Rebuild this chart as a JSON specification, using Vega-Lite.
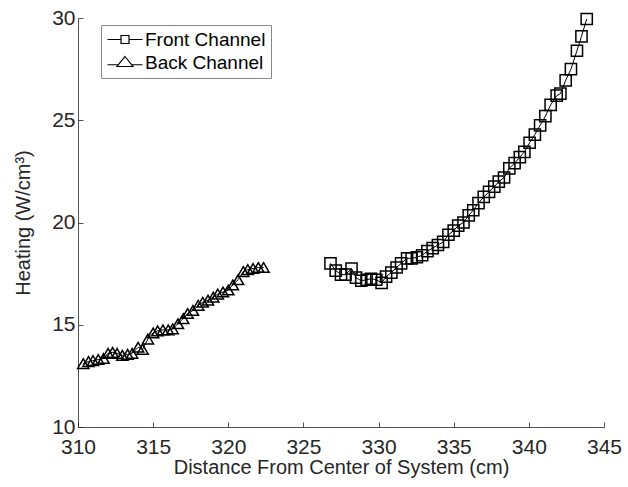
{
  "$schema": "https://vega.github.io/schema/vega-lite/v6.json",
  "width": 526,
  "height": 409,
  "autosize": {"type": "none"},
  "padding": {"left": 78, "top": 18, "right": 24, "bottom": 60},
  "background": "white",
  "config": {
    "view": {"stroke": null},
    "font": "Liberation Sans",
    "axis": {
      "domainColor": "#262626",
      "tickColor": "#262626",
      "labelColor": "#262626",
      "titleColor": "#262626",
      "labelFont": "Liberation Sans",
      "titleFont": "Liberation Sans",
      "labelFontSize": 21,
      "titleFontSize": 20,
      "titleFontWeight": "normal",
      "grid": false,
      "tickSize": -5,
      "domainWidth": 0.8,
      "tickWidth": 0.8,
      "labelFlush": false
    }
  },
  "data": {
    "values": [
      {"x": 310.35, "y": 13.1, "s": "Back Channel"},
      {"x": 310.7, "y": 13.2, "s": "Back Channel"},
      {"x": 311.0, "y": 13.25, "s": "Back Channel"},
      {"x": 311.35, "y": 13.3, "s": "Back Channel"},
      {"x": 311.7, "y": 13.35, "s": "Back Channel"},
      {"x": 312.0, "y": 13.6, "s": "Back Channel"},
      {"x": 312.3, "y": 13.65, "s": "Back Channel"},
      {"x": 312.6, "y": 13.6, "s": "Back Channel"},
      {"x": 312.95, "y": 13.5, "s": "Back Channel"},
      {"x": 313.3, "y": 13.55, "s": "Back Channel"},
      {"x": 313.6, "y": 13.6, "s": "Back Channel"},
      {"x": 314.0, "y": 13.9, "s": "Back Channel"},
      {"x": 314.3, "y": 13.8, "s": "Back Channel"},
      {"x": 314.65, "y": 14.3, "s": "Back Channel"},
      {"x": 315.0, "y": 14.6, "s": "Back Channel"},
      {"x": 315.3, "y": 14.7, "s": "Back Channel"},
      {"x": 315.65, "y": 14.75, "s": "Back Channel"},
      {"x": 316.0, "y": 14.75, "s": "Back Channel"},
      {"x": 316.3, "y": 14.8, "s": "Back Channel"},
      {"x": 316.65, "y": 15.05, "s": "Back Channel"},
      {"x": 317.0, "y": 15.3, "s": "Back Channel"},
      {"x": 317.3, "y": 15.55, "s": "Back Channel"},
      {"x": 317.65, "y": 15.7, "s": "Back Channel"},
      {"x": 318.0, "y": 15.95, "s": "Back Channel"},
      {"x": 318.3, "y": 16.1, "s": "Back Channel"},
      {"x": 318.65, "y": 16.2, "s": "Back Channel"},
      {"x": 319.0, "y": 16.35, "s": "Back Channel"},
      {"x": 319.3, "y": 16.5, "s": "Back Channel"},
      {"x": 319.65, "y": 16.6, "s": "Back Channel"},
      {"x": 320.0, "y": 16.7, "s": "Back Channel"},
      {"x": 320.3, "y": 16.95, "s": "Back Channel"},
      {"x": 320.65, "y": 17.2, "s": "Back Channel"},
      {"x": 321.0, "y": 17.6, "s": "Back Channel"},
      {"x": 321.3, "y": 17.7, "s": "Back Channel"},
      {"x": 321.65, "y": 17.75, "s": "Back Channel"},
      {"x": 322.0, "y": 17.8, "s": "Back Channel"},
      {"x": 322.35, "y": 17.8, "s": "Back Channel"},
      {"x": 326.8, "y": 18.0, "s": "Front Channel"},
      {"x": 327.15, "y": 17.65, "s": "Front Channel"},
      {"x": 327.5, "y": 17.45, "s": "Front Channel"},
      {"x": 327.8, "y": 17.45, "s": "Front Channel"},
      {"x": 328.2, "y": 17.75, "s": "Front Channel"},
      {"x": 328.5, "y": 17.3, "s": "Front Channel"},
      {"x": 328.85, "y": 17.15, "s": "Front Channel"},
      {"x": 329.2, "y": 17.2, "s": "Front Channel"},
      {"x": 329.5, "y": 17.25, "s": "Front Channel"},
      {"x": 329.85, "y": 17.2, "s": "Front Channel"},
      {"x": 330.2, "y": 17.05, "s": "Front Channel"},
      {"x": 330.5, "y": 17.35, "s": "Front Channel"},
      {"x": 330.85, "y": 17.55, "s": "Front Channel"},
      {"x": 331.2, "y": 17.8, "s": "Front Channel"},
      {"x": 331.5, "y": 18.0, "s": "Front Channel"},
      {"x": 331.9, "y": 18.25, "s": "Front Channel"},
      {"x": 332.2, "y": 18.25, "s": "Front Channel"},
      {"x": 332.55, "y": 18.3, "s": "Front Channel"},
      {"x": 332.9, "y": 18.4, "s": "Front Channel"},
      {"x": 333.25, "y": 18.6, "s": "Front Channel"},
      {"x": 333.6, "y": 18.75, "s": "Front Channel"},
      {"x": 333.95, "y": 18.9, "s": "Front Channel"},
      {"x": 334.3, "y": 19.05, "s": "Front Channel"},
      {"x": 334.65, "y": 19.4, "s": "Front Channel"},
      {"x": 335.0, "y": 19.6, "s": "Front Channel"},
      {"x": 335.3, "y": 19.85, "s": "Front Channel"},
      {"x": 335.65, "y": 20.0, "s": "Front Channel"},
      {"x": 336.0, "y": 20.35, "s": "Front Channel"},
      {"x": 336.3, "y": 20.6, "s": "Front Channel"},
      {"x": 336.65, "y": 20.95, "s": "Front Channel"},
      {"x": 337.0, "y": 21.25, "s": "Front Channel"},
      {"x": 337.35, "y": 21.5, "s": "Front Channel"},
      {"x": 337.7, "y": 21.75, "s": "Front Channel"},
      {"x": 338.0, "y": 22.0, "s": "Front Channel"},
      {"x": 338.35, "y": 22.2, "s": "Front Channel"},
      {"x": 338.7, "y": 22.65, "s": "Front Channel"},
      {"x": 339.05, "y": 22.9, "s": "Front Channel"},
      {"x": 339.4, "y": 23.2, "s": "Front Channel"},
      {"x": 339.7, "y": 23.45, "s": "Front Channel"},
      {"x": 340.05, "y": 23.9, "s": "Front Channel"},
      {"x": 340.4, "y": 24.3, "s": "Front Channel"},
      {"x": 340.75, "y": 24.75, "s": "Front Channel"},
      {"x": 341.1, "y": 25.2, "s": "Front Channel"},
      {"x": 341.45, "y": 25.75, "s": "Front Channel"},
      {"x": 341.85, "y": 26.2, "s": "Front Channel"},
      {"x": 342.1, "y": 26.3, "s": "Front Channel"},
      {"x": 342.45, "y": 26.95, "s": "Front Channel"},
      {"x": 342.8, "y": 27.5, "s": "Front Channel"},
      {"x": 343.2, "y": 28.4, "s": "Front Channel"},
      {"x": 343.5, "y": 29.1, "s": "Front Channel"},
      {"x": 343.85, "y": 29.95, "s": "Front Channel"}
    ]
  },
  "encoding": {
    "x": {
      "field": "x", "type": "quantitative",
      "scale": {"domain": [310, 345], "nice": false, "zero": false},
      "axis": {"values": [310, 315, 320, 325, 330, 335, 340, 345], "title": "Distance From Center of System (cm)", "titlePadding": 0, "labelPadding": 14}
    },
    "y": {
      "field": "y", "type": "quantitative",
      "scale": {"domain": [10, 30], "nice": false, "zero": false},
      "axis": {"values": [10, 15, 20, 25, 30], "title": "Heating (W/cm³)", "titlePadding": 18, "labelPadding": 8}
    }
  },
  "resolve": {"scale": {"shape": "independent"}, "legend": {"shape": "independent"}},
  "layer": [
    {
      "mark": {"type": "line", "color": "black", "strokeWidth": 1},
      "encoding": {"detail": {"field": "s"}}
    },
    {
      "mark": {"type": "point", "filled": false, "color": "black", "strokeWidth": 1.5, "opacity": 1, "size": 125},
      "encoding": {
        "shape": {
          "field": "s", "type": "nominal",
          "scale": {"domain": ["Front Channel", "Back Channel"], "range": ["square", "triangle-up"]},
          "legend": null
        }
      }
    },
    {
      "mark": {"type": "point", "filled": false, "color": "black", "strokeWidth": 1.2, "opacity": 0, "size": 100},
      "encoding": {
        "shape": {
          "field": "s", "type": "nominal",
          "scale": {"domain": ["Front Channel", "Back Channel"], "range": ["M-3.5,0H-0.8M0.8,0H3.5M-0.8,-0.8H0.8V0.8H-0.8Z", "M-3.5,0.45H-1.35M1.35,0.45H3.5M0,-1.2L1.6,0.8H-1.6Z"]},
          "legend": {
            "title": null,
            "orient": "none",
            "legendX": 23,
            "legendY": 7,
            "direction": "vertical",
            "padding": 5,
            "strokeColor": "#888888",
            "fillColor": "white",
            "labelFontSize": 19,
            "labelFont": "Liberation Sans",
            "labelColor": "black",
            "labelOffset": 10.5,
            "rowPadding": 3,
            "symbolSize": 100,
            "symbolOpacity": 1,
            "symbolStrokeWidth": 1.2,
            "symbolStrokeColor": "black",
            "symbolFillColor": "transparent",
            "symbolOffset": 9.5
          }
        }
      }
    }
  ]
}
